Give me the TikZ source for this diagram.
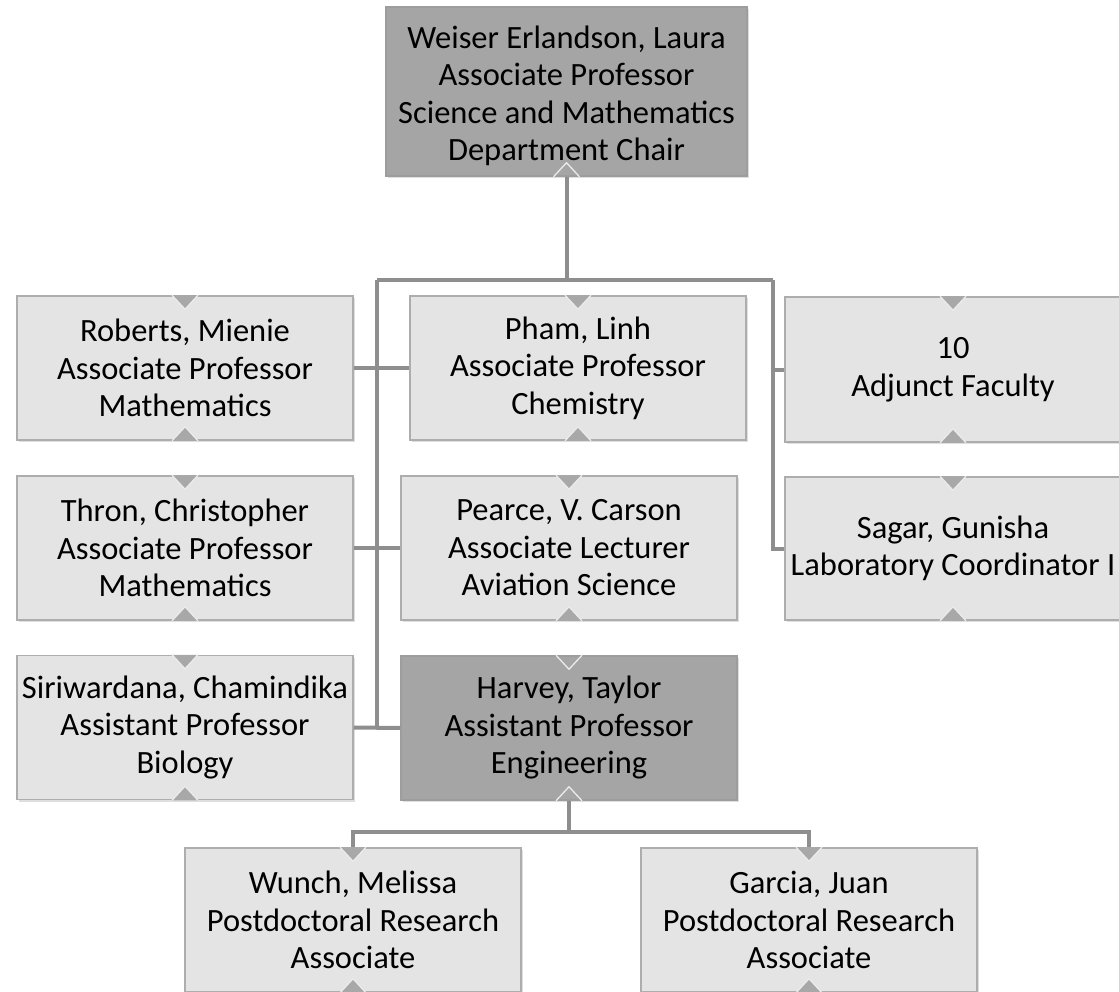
\documentclass[tikz,border=0pt]{standalone}
\usepackage{fontspec}
\setmainfont{Carlito}
\usetikzlibrary{shadows}
\definecolor{lightbox}{HTML}{E4E4E4}
\definecolor{darkbox}{HTML}{A5A5A5}
\definecolor{boxborder}{HTML}{ADADAD}
\definecolor{connc}{HTML}{8E8E8E}
\definecolor{trifill}{HTML}{A8A8A8}
\tikzset{
  orgbox/.style={draw=boxborder, line width=1.5pt, fill=lightbox, minimum width=336pt, minimum height=144pt,
    inner sep=0pt, align=center, text=black, font=\fontsize{32.5}{37.5}\selectfont,
    drop shadow={opacity=0.25, shadow xshift=2pt, shadow yshift=-2pt}},
  darkorg/.style={orgbox, fill=darkbox, draw=darkbox!95!black},
  conn/.style={draw=connc, line width=4pt},
  trimark/.style={fill=trifill},
  triedge/.style={draw=white!92!black, line width=1.3pt},
}
\newcommand{\boxmarks}[1]{%
  \fill[trimark] (#1.north) ++(-13,0) -- ++(26,0) -- ++(-13,14) -- cycle;
  \draw[triedge] (#1.north) ++(-13,0) -- ++(13,14) -- ++(13,-14);
  \fill[trimark] (#1.south) ++(-13,0) -- ++(26,0) -- ++(-13,-14) -- cycle;
  \draw[triedge] (#1.south) ++(-13,0) -- ++(13,-14) -- ++(13,14);
}
\begin{document}
\begin{tikzpicture}[x=1pt,y=-1pt]
\useasboundingbox (0,0) rectangle (1119,992);
\coordinate (jl) at (377,280);
\coordinate (jr) at (773,280);
\coordinate (jb) at (569,832);

\node[darkorg, minimum width=361pt, minimum height=169pt] (top) at (566.5,91.5)
  {\rule{0pt}{31pt}Weiser Erlandson, Laura\\Associate Professor\\Science and Mathematics\\Department Chair};
\node[orgbox] (rob) at (185,368) {Roberts, Mienie\\Associate Professor\\Mathematics};
\node[orgbox] (pham) at (578,368) {Pham, Linh\\Associate Professor\\Chemistry};
\node[orgbox, minimum height=145pt] (adj) at (953,369.5) {10\\Adjunct Faculty};
\node[orgbox] (thr) at (185,548) {Thron, Christopher\\Associate Professor\\Mathematics};
\node[orgbox] (pea) at (569,548) {Pearce, V. Carson\\Associate Lecturer\\Aviation Science};
\node[orgbox, minimum height=143pt] (sag) at (953,548.5) {Sagar, Gunisha\\Laboratory Coordinator I};
\node[orgbox] (sir) at (185,727.5) {Siriwardana, Chamindika\\Assistant Professor\\Biology};
\node[darkorg] (har) at (569,728) {Harvey, Taylor\\Assistant Professor\\Engineering};
\node[orgbox] (wun) at (353,920) {Wunch, Melissa\\Postdoctoral Research\\Associate};
\node[orgbox] (gar) at (809,920) {Garcia, Juan\\Postdoctoral Research\\Associate};

\draw[conn] (top.south) -- (top.south |- jl);
\draw[conn] (jl) -- (jr);
\draw[conn] (jl) -- (jl |- sir.east);
\draw[conn] (rob.east) -- (pham.west);
\draw[conn] (thr.east) -- (pea.west);
\draw[conn] (sir.east) -- (har.west);
\draw[conn] (jr) -- (jr |- sag.west) -- (sag.west);
\draw[conn] (jr |- adj.west) -- (adj.west);
\draw[conn] (har.south) -- (jb);
\draw[conn] (wun.north) -- (wun.north |- jb) -- (gar.north |- jb) -- (gar.north);

\boxmarks{rob}\boxmarks{pham}\boxmarks{adj}
\boxmarks{thr}\boxmarks{pea}\boxmarks{sag}
\boxmarks{sir}\boxmarks{wun}\boxmarks{gar}
\draw[triedge] (har.north) ++(-13,0) -- ++(13,14) -- ++(13,-14);
\draw[triedge] (har.south) ++(-13,0) -- ++(13,-14) -- ++(13,14);
\draw[triedge] (top.south) ++(-13,0) -- ++(13,-14) -- ++(13,14);
\end{tikzpicture}
\end{document}
